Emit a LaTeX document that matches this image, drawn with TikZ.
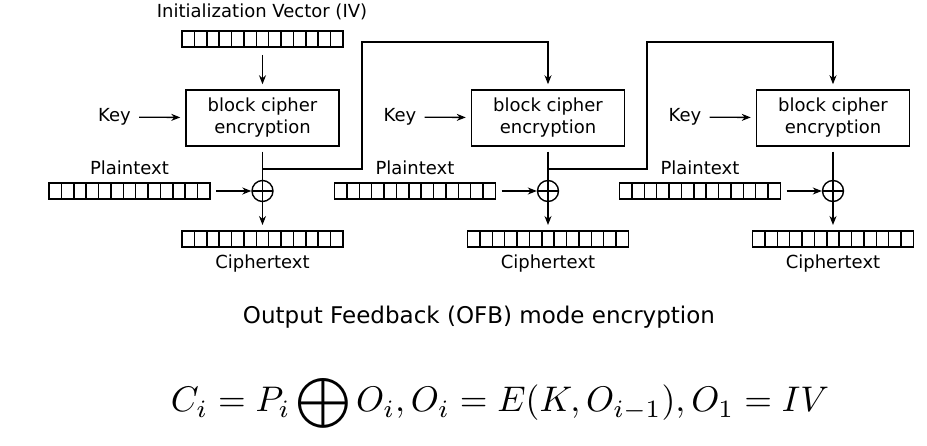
\documentclass[tikz,border=0pt]{standalone}
\usepackage{fontspec}
\newfontfamily\vera{DejaVu Sans}
\usetikzlibrary{arrows,arrows.meta,shapes}
\tikzstyle{cipherbox}=[rectangle,draw,line width=1.5pt,minimum width=153pt,minimum height=56pt,align=center,font=\vera\fontsize{18}{22}\selectfont]
\tikzstyle{register}=[rectangle,draw,line width=1.5pt,minimum width=161pt,minimum height=16pt,inner sep=0pt,outer sep=0pt]
\tikzstyle{xor}=[circle,draw,line width=1.4pt,minimum size=21pt,inner sep=0pt,path picture={\draw[line width=1.4pt] (path picture bounding box.north) -- (path picture bounding box.south) (path picture bounding box.west) -- (path picture bounding box.east);}]
\tikzstyle{flow}=[draw,line width=1.3pt,-{Stealth[length=9pt,width=7pt]}]
\tikzstyle{wire}=[draw,line width=1.3pt]
\tikzstyle{caption}=[font=\vera\fontsize{18}{20}\selectfont,inner sep=0pt]

\begin{document}
\begin{tikzpicture}[x=1pt,y=-1pt]
    \useasboundingbox (0,0) rectangle (927,446);

    \node[caption] (ivtext) at (262,12) {Initialization Vector (IV)};
    \node[register] (iv) at (262.5,39) {};

    % the three stages
    \foreach \n/\x in {1/262.5, 2/548, 3/833}{
        \node[cipherbox] (enc\n) at (\x,118) {block cipher\\encryption};
        \node[caption] (key\n) at (\x-148,117) {Key};
        \node[xor] (xor\n) at (\x,191) {};
        \node[register] (pt\n) at (\x-133,191) {};
        \node[caption] (pttext\n) at (\x-133,168) {Plaintext};
        \node[register] (ct\n) at (\x,239) {};
        \node[caption] (cttext\n) at (\x,264) {Ciphertext};
        \coordinate (tap\n) at (\x,169);
    }

    % cells of the registers
    \foreach \r in {iv,pt1,pt2,pt3,ct1,ct2,ct3}
        \foreach \k in {1,...,12}
            \draw[line width=1.5pt] ([xshift=\k*161/13]\r.south west) -- ([xshift=\k*161/13]\r.north west);

    \path[flow, shorten <=8pt, shorten >=5pt] (iv) -- (enc1);

    \foreach \n in {1,2,3}{
        \path[flow, shorten <=8pt, shorten >=5pt] (key\n) -- (enc\n);
        \path[flow, shorten <=6pt] (pt\n) -- (xor\n);
        \path[wire, shorten <=5pt] (enc\n) -- (xor\n);
        \path[flow, shorten >=6pt] (xor\n) -- (ct\n);
    }

    % feedback of the output
    \foreach \a/\b/\tx in {1/2/362, 2/3/647}{
        \coordinate (turn\a) at (\tx,42);
        \path[flow, shorten >=5pt] (tap\a) -| (turn\a) -| (enc\b.north);
    }

    \node[font=\vera\fontsize{23}{28}\selectfont] (title) at (479,317) {Output Feedback (OFB) mode encryption};
    \node[scale=3.56] (formula) at (500,403) {$\displaystyle C_i = P_i \bigoplus O_i, O_i = E(K,O_{i-1}), O_1 = IV$};
\end{tikzpicture}
\end{document}
